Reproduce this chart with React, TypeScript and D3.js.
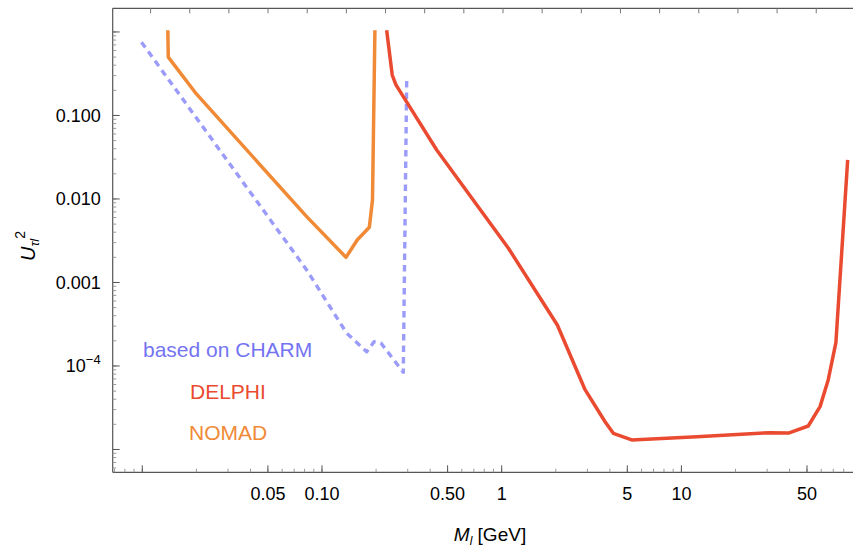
import React from "react";
import * as d3 from "d3";

// ---- data ----
const charmX = [0.0099, 0.0822, 0.1372, 0.1773, 0.1947, 0.2129, 0.2834, 0.296];
const charmY = [0.753, 0.00141, 2.47e-4, 1.48e-4, 1.95e-4, 1.88e-4, 8.4e-5, 0.266];

const nomadX = [0.01387, 0.01395, 0.02, 0.0822, 0.136, 0.157, 0.1834, 0.191, 0.197];
const nomadY = [1.05, 0.5, 0.181, 0.00614, 0.002, 0.00323, 0.00458, 0.00973, 1.05];

const delphiX = [0.229, 0.246, 0.258, 0.435, 1.09, 2.04, 2.91, 3.76, 4.18, 5.29, 12.2, 31.1, 39.8, 50.8, 59.1, 65.6, 72.4, 84.2];
const delphiY = [1.05, 0.305, 0.232, 0.0386, 0.00257, 3.1e-4, 5.2e-5, 2.15e-5, 1.56e-5, 1.3e-5, 1.42e-5, 1.59e-5, 1.58e-5, 1.91e-5, 3.26e-5, 6.8e-5, 1.9e-4, 0.0293];

const xTickValues = [0.05, 0.1, 0.5, 1, 5, 10, 50];
const xTickLabels = ["0.05", "0.10", "0.50", "1", "5", "10", "50"];
const yTickValues = [0.1, 0.01, 0.001];
const yTickLabels = ["0.100", "0.010", "0.001"];
const yExpTickValue = 1e-4;

const legendLabels = ["based on CHARM", "DELPHI", "NOMAD"];

// ---- layout ----
const W = 853, H = 548;
const L = 112.7, R = 852, T = 8.3, B = 472.3;

const x = d3.scaleLog().domain([0.006844, 89.0]).range([L, R]);
const y = d3.scaleLog().domain([5.33e-6, 1.92]).range([B, T]);

const line = d3
  .line<[number, number]>()
  .x((d) => x(d[0]))
  .y((d) => y(d[1]));

const zip = (a: number[], b: number[]) => a.map((v, i) => [v, b[i]] as [number, number]);

const FONT = "'Liberation Sans', Arial, Helvetica, sans-serif";

export default function App() {
  const xMinor: number[] = [];
  for (let e = -3; e <= 2; e++) {
    for (let m = 1; m <= 9; m++) {
      const v = m * Math.pow(10, e);
      if (v >= x.domain()[0] && v <= x.domain()[1]) xMinor.push(v);
    }
  }
  const yMinor: number[] = [];
  for (let e = -6; e <= 0; e++) {
    for (let m = 1; m <= 9; m++) {
      const v = m * Math.pow(10, e);
      if (v >= y.domain()[0] && v <= y.domain()[1]) yMinor.push(v);
    }
  }
  const yMajor = [1, 0.1, 0.01, 0.001, 1e-4, 1e-5];
  const xMajor = [0.01, 0.05, 0.1, 0.5, 1, 5, 10, 50];

  const topTicks: number[] = [];
  for (let k = -12; k <= 12; k++) {
    const v = Math.pow(10, 0.0072 + k * 0.2179);
    if (x(v) > L + 1 && x(v) < R - 1) topTicks.push(v);
  }

  return (
    <svg
      width={W}
      height={H}
      style={{ position: "absolute", left: 0, top: 0, display: "block", background: "#fff" }}
      fontFamily={FONT}
    >
      <rect x={0} y={0} width={W} height={H} fill="#fff" />
      <defs>
        <clipPath id="plotclip">
          <rect x={L} y={T} width={R - L} height={B - T} />
        </clipPath>
      </defs>

      {/* frame */}
      <line x1={L} y1={T} x2={R + 2} y2={T} stroke="#555" strokeWidth={1.2} />
      <line x1={L} y1={T} x2={L} y2={B} stroke="#555" strokeWidth={1.2} />
      <line x1={L} y1={B} x2={R + 2} y2={B} stroke="#555" strokeWidth={1.2} />

      {/* top ticks */}
      {topTicks.map((v, i) => (
        <line key={"tt" + i} x1={x(v)} x2={x(v)} y1={T} y2={T + 5} stroke="#777" strokeWidth={1} />
      ))}

      {/* bottom ticks */}
      {xMinor.map((v, i) => (
        <line key={"xm" + i} x1={x(v)} x2={x(v)} y1={B} y2={B - 3.5} stroke="#999" strokeWidth={1} />
      ))}
      {xMajor.map((v, i) => (
        <line key={"xM" + i} x1={x(v)} x2={x(v)} y1={B} y2={B - 7} stroke="#555" strokeWidth={1} />
      ))}

      {/* left ticks */}
      {yMinor.map((v, i) => (
        <line key={"ym" + i} x1={L} x2={L + 3.5} y1={y(v)} y2={y(v)} stroke="#999" strokeWidth={1} />
      ))}
      {yMajor.map((v, i) => (
        <line key={"yM" + i} x1={L} x2={L + 7} y1={y(v)} y2={y(v)} stroke="#555" strokeWidth={1} />
      ))}

      {/* x tick labels */}
      {xTickValues.map((v, i) => (
        <text key={"xl" + i} x={x(v)} y={500} textAnchor="middle" fontSize={18} fill="#000">
          {xTickLabels[i]}
        </text>
      ))}

      {/* y tick labels */}
      {yTickValues.map((v, i) => (
        <text key={"yl" + i} x={L - 12} y={y(v) + 6.5} textAnchor="end" fontSize={18} fill="#000">
          {yTickLabels[i]}
        </text>
      ))}
      <text x={L - 12} y={y(yExpTickValue) + 6.5} textAnchor="end" fontSize={18} fill="#000">
        10
        <tspan fontSize={13} dy={-8}>
          −4
        </tspan>
      </text>

      {/* curves */}
      <g clipPath="url(#plotclip)" fill="none">
        <path
          d={line(zip(charmX, charmY)) || ""}
          stroke="#9b9bfa"
          strokeWidth={3.4}
          strokeDasharray="6.5,5"
          strokeLinejoin="round"
        />
        <path d={line(zip(nomadX, nomadY)) || ""} stroke="#f08a36" strokeWidth={3.5} strokeLinejoin="round" />
        <path d={line(zip(delphiX, delphiY)) || ""} stroke="#ea4a30" strokeWidth={3.5} strokeLinejoin="round" />
      </g>

      {/* legend labels */}
      <text x={143} y={357} fontSize={21} fill="#7474f2">
        {legendLabels[0]}
      </text>
      <text x={190} y={399} fontSize={21} fill="#ea4a30">
        {legendLabels[1]}
      </text>
      <text x={189} y={440} fontSize={21} fill="#f08a36">
        {legendLabels[2]}
      </text>

      {/* axis titles */}
      <text x={490} y={541} textAnchor="middle" fontSize={19} fill="#000">
        <tspan fontStyle="italic">M</tspan>
        <tspan fontStyle="italic" fontSize={12} dy={4}>
          l
        </tspan>
        <tspan dy={-4}> [GeV]</tspan>
      </text>
      <text
        transform={`translate(35, ${246}) rotate(-90)`}
        textAnchor="middle"
        fontSize={20}
        fill="#000"
      >
        <tspan fontStyle="italic">U</tspan>
        <tspan fontStyle="italic" fontSize={13} dy={4}>
          τl
        </tspan>
        <tspan fontSize={14} dy={-14}>
          2
        </tspan>
      </text>
    </svg>
  );
}
